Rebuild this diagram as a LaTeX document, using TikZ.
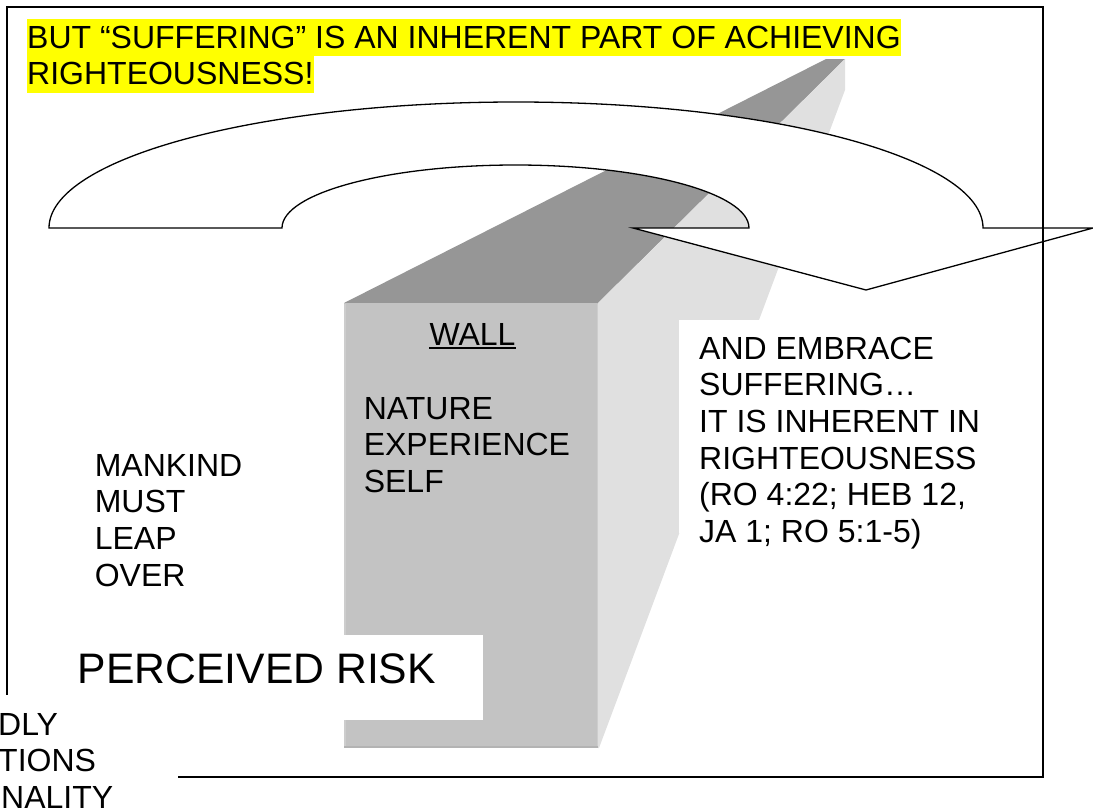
\documentclass[tikz,border=0pt]{standalone}
\usepackage{fontspec}
\setmainfont{Liberation Sans}
\definecolor{walltop}{HTML}{969696}
\definecolor{wallfront}{HTML}{C3C3C3}
\definecolor{wallside}{HTML}{E0E0E0}
\definecolor{edgelight}{HTML}{CDCDCD}
\definecolor{edgedark}{HTML}{B3B3B3}
\definecolor{hl}{HTML}{FFFF00}
\begin{document}
\begin{tikzpicture}[x=1pt,y=-1pt,
  body/.style={font=\fontsize{32}{36.6}\selectfont, align=left, inner sep=0pt, anchor=north west},
  hlline/.style={font=\fontsize{32}{36.8}\selectfont, anchor=base west, inner ysep=0pt, inner xsep=0.5pt,
                 fill=hl, text height=29pt, text depth=7.8pt},
  arrowshape/.style={line width=1.3pt, fill=white, line join=miter},
  framebox/.style={line width=2pt}]
\useasboundingbox (0,0) rectangle (1093,809);
\clip (0,0) rectangle (1093,809);

% wall
\fill[walltop] (344,303) -- (598,303) -- (845,59) -- (826,59) -- cycle;
\fill[wallside] (598,303) -- (845,59) -- (845,90) -- (599,748) -- (598,748) -- cycle;
\fill[wallfront] (344,303) rectangle (598,748);
\draw[edgelight, line width=2pt] (345,304) -- (345,747);
\draw[edgelight, line width=1.5pt] (597.5,304) -- (597.5,747);
\draw[edgedark, line width=2pt] (344,747) -- (598,747);

% curved arrow
\draw[arrowshape] (49,228) -- (282,228)
  arc[start angle=180, end angle=0, x radius=233.5pt, y radius=63pt]
  -- (633,228) -- (866,290) -- (1093,228) -- (983,228)
  arc[start angle=0, end angle=180, x radius=467pt, y radius=126pt] -- cycle;

% frame
\draw[framebox] (7,7) rectangle (1043,777);

% white text boxes
\fill[white] (67,635) rectangle (483,720);
\fill[white] (679,320) rectangle (1020,533);
\fill[white] (0,695) rectangle (178,809);

% title
\node[hlline] (title1) at (26.5,48) {BUT “SUFFERING” IS AN INHERENT PART OF ACHIEVING};
\node[hlline] (title2) at (26.5,84.8) {RIGHTEOUSNESS!};

% wall texts
\node[font=\fontsize{32}{36.6}\selectfont, anchor=base, inner sep=0pt] (wall) at (472.5,345) {WALL};
\draw[line width=2pt] ([yshift=-3pt]wall.base west) -- ([yshift=-3pt]wall.base east);
\node[body] (wallitems) at (363.6,389) {\rule{0pt}{30pt}NATURE\\EXPERIENCE\\SELF};

% left text
\node[body] (mankind) at (94.6,446) {\rule{0pt}{30pt}MANKIND\\MUST\\LEAP\\OVER};

% right text
\node[body] (embrace) at (699,329) {\rule{0pt}{30pt}AND EMBRACE\\SUFFERING…\\IT IS INHERENT IN\\RIGHTEOUSNESS\\(RO 4:22; HEB 12,\\JA 1; RO 5:1-5)};

% perceived risk
\node[font=\fontsize{42.67}{49}\selectfont, anchor=base west, inner sep=0pt] (risk) at (77.7,683.5) {PERCEIVED RISK};

% cut-off text at bottom left
\node[body] (cutoff) at (-2,705) {\rule{0pt}{30pt}DLY\\TIONS\\\hspace{3pt}NALITY};
\end{tikzpicture}
\end{document}
